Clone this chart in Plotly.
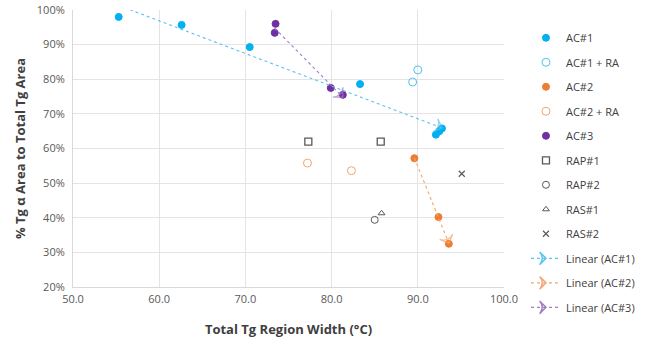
import numpy as np
import plotly.graph_objects as go

# ---- data ----
ac1_x = [55.3, 62.6, 70.5, 83.3, 92.1, 92.5, 92.8]
ac1_y = [0.980, 0.957, 0.893, 0.786, 0.640, 0.650, 0.658]
ac1ra_x = [90.0, 89.4]
ac1ra_y = [0.827, 0.792]
ac2_x = [89.6, 92.4, 93.6]
ac2_y = [0.572, 0.402, 0.325]
ac2ra_x = [77.2, 82.3]
ac2ra_y = [0.558, 0.536]
ac3_x = [73.5, 73.4, 79.9, 81.3]
ac3_y = [0.960, 0.934, 0.775, 0.755]
rap1_x = [77.3, 85.7]
rap1_y = [0.620, 0.620]
rap2_x = [85.0]
rap2_y = [0.394]
ras1_x = [85.8]
ras1_y = [0.413]
ras2_x = [95.1]
ras2_y = [0.527]

x_ticks = [50, 60, 70, 80, 90, 100]
y_ticks = [0.2, 0.3, 0.4, 0.5, 0.6, 0.7, 0.8, 0.9, 1.0]

C1 = "#00B0F0"
C2 = "#ED7D31"
C3 = "#7030A0"
GR = "#595959"

fig = go.Figure()

def pts(name, x, y, color, symbol, size=7, lw=1):
    fig.add_trace(go.Scatter(
        x=x, y=y, mode="markers", name=name,
        marker=dict(symbol=symbol, size=size, color=color, line=dict(color=color, width=lw)),
        legendgroup=name, cliponaxis=False))

pts("AC#1", ac1_x, ac1_y, C1, "circle")
pts("AC#1 + RA", ac1ra_x, ac1ra_y, "#4FC3F2", "circle-open", size=8, lw=1)
pts("AC#2", ac2_x, ac2_y, C2, "circle")
pts("AC#2 + RA", ac2ra_x, ac2ra_y, "#F4A46E", "circle-open", size=8, lw=1)
pts("AC#3", ac3_x, ac3_y, C3, "circle")
pts("RAP#1", rap1_x, rap1_y, GR, "square-open", size=7, lw=1.3)
pts("RAP#2", rap2_x, rap2_y, GR, "circle-open", size=7, lw=1)
pts("RAS#1", ras1_x, ras1_y, GR, "triangle-up-open", size=6, lw=1)
pts("RAS#2", ras2_x, ras2_y, GR, "x-thin-open", size=6, lw=1.2)

def trend(name, x, y, color):
    m, b = np.polyfit(x, y, 1)
    x0, x1 = min(x), max(x)
    fig.add_trace(go.Scatter(
        x=[x0, x1], y=[m * x0 + b, m * x1 + b], mode="lines+markers", name=name,
        line=dict(color=color, width=1.1, dash="dot"),
        marker=dict(symbol=["circle", "arrow-wide-open"], size=[0, 10], angleref="previous",
                    color=color, line=dict(color=color, width=1.3)),
        showlegend=False, cliponaxis=True))
    # legend entry
    fig.add_trace(go.Scatter(
        x=[None], y=[None], mode="lines+markers", name=name,
        line=dict(color=color, width=1.3, dash="dot"),
        marker=dict(symbol="arrow-wide-open", size=9, angle=90,
                    color=color, line=dict(color=color, width=1.5)),
        legendgroup=name))

trend("Linear (AC#1)", ac1_x, ac1_y, "#5BC3F0")
trend("Linear (AC#2)", ac2_x, ac2_y, "#F4A46E")
trend("Linear (AC#3)", ac3_x, ac3_y, "#A07CC5")

fig.update_layout(
    width=651, height=338,
    margin=dict(l=73, r=147, t=10, b=51, autoexpand=False),
    paper_bgcolor="white", plot_bgcolor="white",
    font=dict(family="Open Sans, Liberation Sans, sans-serif", size=11, color=GR),
    showlegend=True,
    legend=dict(x=1.051, y=0.952, xanchor="left", yanchor="top",
                bgcolor="rgba(0,0,0,0)",
                font=dict(size=11, color="#404040"), maxheight=330,
                traceorder="grouped", tracegroupgap=5.5, itemwidth=30),
)
fig.update_xaxes(range=[50, 100], tickvals=x_ticks, tickformat=".1f",
                 showgrid=True, gridcolor="#E4E4E4", gridwidth=1,
                 showline=True, linecolor="#D9D9D9", zeroline=False,
                 ticks="", tickfont=dict(size=11, color=GR),
                 ticklabeloverflow="allow", ticklabelstandoff=2,
                 title=dict(text="<b>Total Tg Region Width (°C)</b>",
                            font=dict(size=13, color="#404040"), standoff=19))
fig.update_yaxes(range=[0.2, 1.0], tickvals=y_ticks, tickformat=".0%",
                 showgrid=True, gridcolor="#E4E4E4", gridwidth=1,
                 showline=True, linecolor="#D9D9D9", zeroline=False,
                 ticks="", tickfont=dict(size=11, color=GR),
                 ticklabeloverflow="allow", ticklabelstandoff=5,
                 title=dict(text="<b>% Tg α Area to Total Tg Area</b>",
                            font=dict(size=13, color="#404040"), standoff=8))

fig.write_html("out.html", config={"displayModeBar": False},
               post_script="document.body.style.margin='0';")
